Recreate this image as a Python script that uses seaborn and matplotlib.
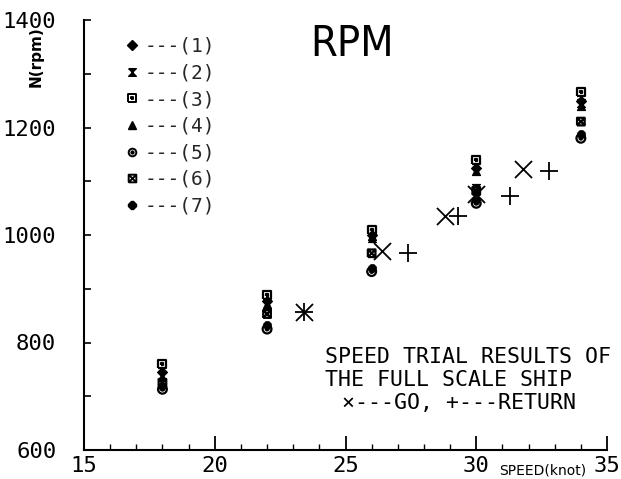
import numpy as np
import pandas as pd
import matplotlib
matplotlib.use("Agg")
import matplotlib.pyplot as plt
import seaborn as sns
from matplotlib.path import Path
from matplotlib.lines import Line2D
from matplotlib.ticker import MultipleLocator, FixedLocator

# ---------------- data ----------------
speeds = [18, 22, 26, 30, 34]
s1 = [745, 877, 1000, 1125, 1250]
s2 = [740, 870, 995, 1088, 1245]
s3 = [760, 889, 1010, 1140, 1266]
s4 = [735, 872, 998, 1120, 1240]
s5 = [713, 825, 932, 1059, 1180]
s6 = [725, 853, 966, 1082, 1211]
s7 = [720, 833, 938, 1066, 1188]
series_labels = ["---(1)", "---(2)", "---(3)", "---(4)", "---(5)", "---(6)", "---(7)"]

go_speed = [23.4, 26.4, 28.8, 30.0, 31.8]
go_rpm = [856, 970, 1036, 1077, 1123]
ret_speed = [23.4, 27.4, 29.3, 31.3, 32.8]
ret_rpm = [856, 967, 1036, 1073, 1119]

x_ticks = [15, 20, 25, 30, 35]
y_ticks = [600, 800, 1000, 1200, 1400]

# ---------------- markers ----------------
M, L = Path.MOVETO, Path.LINETO
hourglass = Path([(-1, 1), (1, 1), (-1, -1), (1, -1), (-1, 1)], [M, L, L, L, L])
sq_dot = Path.make_compound_path(
    Path([(-1, -1), (1, -1), (1, 1), (-1, 1), (-1, -1)], [M, L, L, L, L]),
    Path([(-0.25, -0.25), (0.25, -0.25), (0.25, 0.25), (-0.25, 0.25), (-0.25, -0.25)], [M, L, L, L, L]),
)
circ_dot = Path.make_compound_path(
    Path.unit_circle(),
    Path(Path.unit_circle().vertices * 0.3, Path.unit_circle().codes),
)
sq_x = Path.make_compound_path(
    Path([(-1, -1), (1, -1), (1, 1), (-1, 1), (-1, -1)], [M, L, L, L, L]),
    Path([(-1, -1), (1, 1)], [M, L]),
    Path([(-1, 1), (1, -1)], [M, L]),
)

styles = [
    dict(marker="D", filled=True, s=26),
    dict(marker=hourglass, filled=True, s=34),
    dict(marker=sq_dot, filled=False, s=34),
    dict(marker="^", filled=True, s=34),
    dict(marker=circ_dot, filled=False, s=40),
    dict(marker=sq_x, filled=False, s=30),
    dict(marker="8", filled=True, s=34),
]
all_series = [s1, s2, s3, s4, s5, s6, s7]

# ---------------- figure ----------------
sns.set_style("ticks")
plt.rcParams["font.family"] = ["DejaVu Sans"]
mono = "DejaVu Sans Mono"

fig = plt.figure(figsize=(6.21, 4.79), dpi=100)
ax = fig.add_axes([84 / 621, 29 / 479, 523 / 621, 430 / 479])

for vals, st in zip(all_series, styles):
    if st["filled"]:
        sns.scatterplot(x=speeds, y=vals, marker=st["marker"], s=st["s"],
                        color="k", edgecolor="k", linewidth=0.8, ax=ax, legend=False, zorder=3)
    else:
        sns.scatterplot(x=speeds, y=vals, marker=st["marker"], s=st["s"],
                        facecolors="none", edgecolors="k", linewidth=1.6, ax=ax, legend=False, zorder=3)

sns.scatterplot(x=go_speed, y=go_rpm, marker="x", s=150, color="k", linewidth=1.3,
                ax=ax, legend=False, zorder=4)
sns.scatterplot(x=ret_speed, y=ret_rpm, marker="+", s=150, color="k", linewidth=1.3,
                ax=ax, legend=False, zorder=4)

ax.set_xlim(15, 35)
ax.set_ylim(600, 1400)
sns.despine(ax=ax)
for sp in ("left", "bottom"):
    ax.spines[sp].set_linewidth(1.5)
    ax.spines[sp].set_color("k")

ax.xaxis.set_major_locator(FixedLocator(x_ticks))
ax.xaxis.set_minor_locator(MultipleLocator(1))
ax.yaxis.set_major_locator(FixedLocator(y_ticks))
ax.yaxis.set_minor_locator(MultipleLocator(100))
ax.set_xticklabels([str(v) for v in x_ticks], fontfamily=mono, fontsize=16)
ax.set_yticklabels([str(v) for v in y_ticks], fontfamily=mono, fontsize=16)
ax.tick_params(axis="x", which="major", direction="in", length=10, width=1.3, pad=4, colors="k")
ax.tick_params(axis="x", which="minor", direction="in", length=4, width=1.0, colors="k")
ax.tick_params(axis="y", which="both", direction="in", length=5, width=1.2, pad=20, colors="k")

ax.set_xlabel("SPEED(knot)", fontsize=10, color="k")
ax.xaxis.set_label_coords((543 - 84) / 523, -(470 - 450) / 430)
ax.xaxis.label.set_va("center")
ax.set_ylabel("N(rpm)", fontsize=11, fontweight="bold", color="k")
ax.yaxis.set_label_coords((36 - 84) / 523, (450 - 57) / 430)
ax.yaxis.label.set_va("center")

ax.text((352 - 84) / 523, (450 - 44) / 430, "RPM", transform=ax.transAxes,
        fontsize=31, fontfamily="DejaVu Sans", fontstretch="condensed", fontweight="light",
        ha="center", va="center", color="k")

ax.text((325 - 84) / 523, (450 - 357) / 430, "SPEED TRIAL RESULTS OF", transform=ax.transAxes,
        fontsize=15.5, fontfamily=mono, ha="left", va="center", color="k")
ax.text((325 - 84) / 523, (450 - 380) / 430, "THE FULL SCALE SHIP", transform=ax.transAxes,
        fontsize=15.5, fontfamily=mono, ha="left", va="center", color="k")
ax.text((342 - 84) / 523, (450 - 403) / 430, "\u00d7---GO, +---RETURN", transform=ax.transAxes,
        fontsize=15.5, fontfamily=mono, ha="left", va="center", color="k")

handles = []
for st in styles:
    if st["filled"]:
        h = Line2D([], [], ls="none", marker=st["marker"], color="k", markersize=5.5)
    else:
        h = Line2D([], [], ls="none", marker=st["marker"], markerfacecolor="none",
                   markeredgecolor="k", markeredgewidth=1.4, markersize=5.5)
    handles.append(h)
leg = ax.legend(handles, series_labels, loc="upper left",
                bbox_to_anchor=((122 - 84) / 523, (450 - 37) / 430),
                frameon=False, borderpad=0, borderaxespad=0, handlelength=1.0,
                handletextpad=0.15, labelspacing=0.39,
                prop={"family": mono, "size": 14})

fig.savefig("out.png", dpi=100)
